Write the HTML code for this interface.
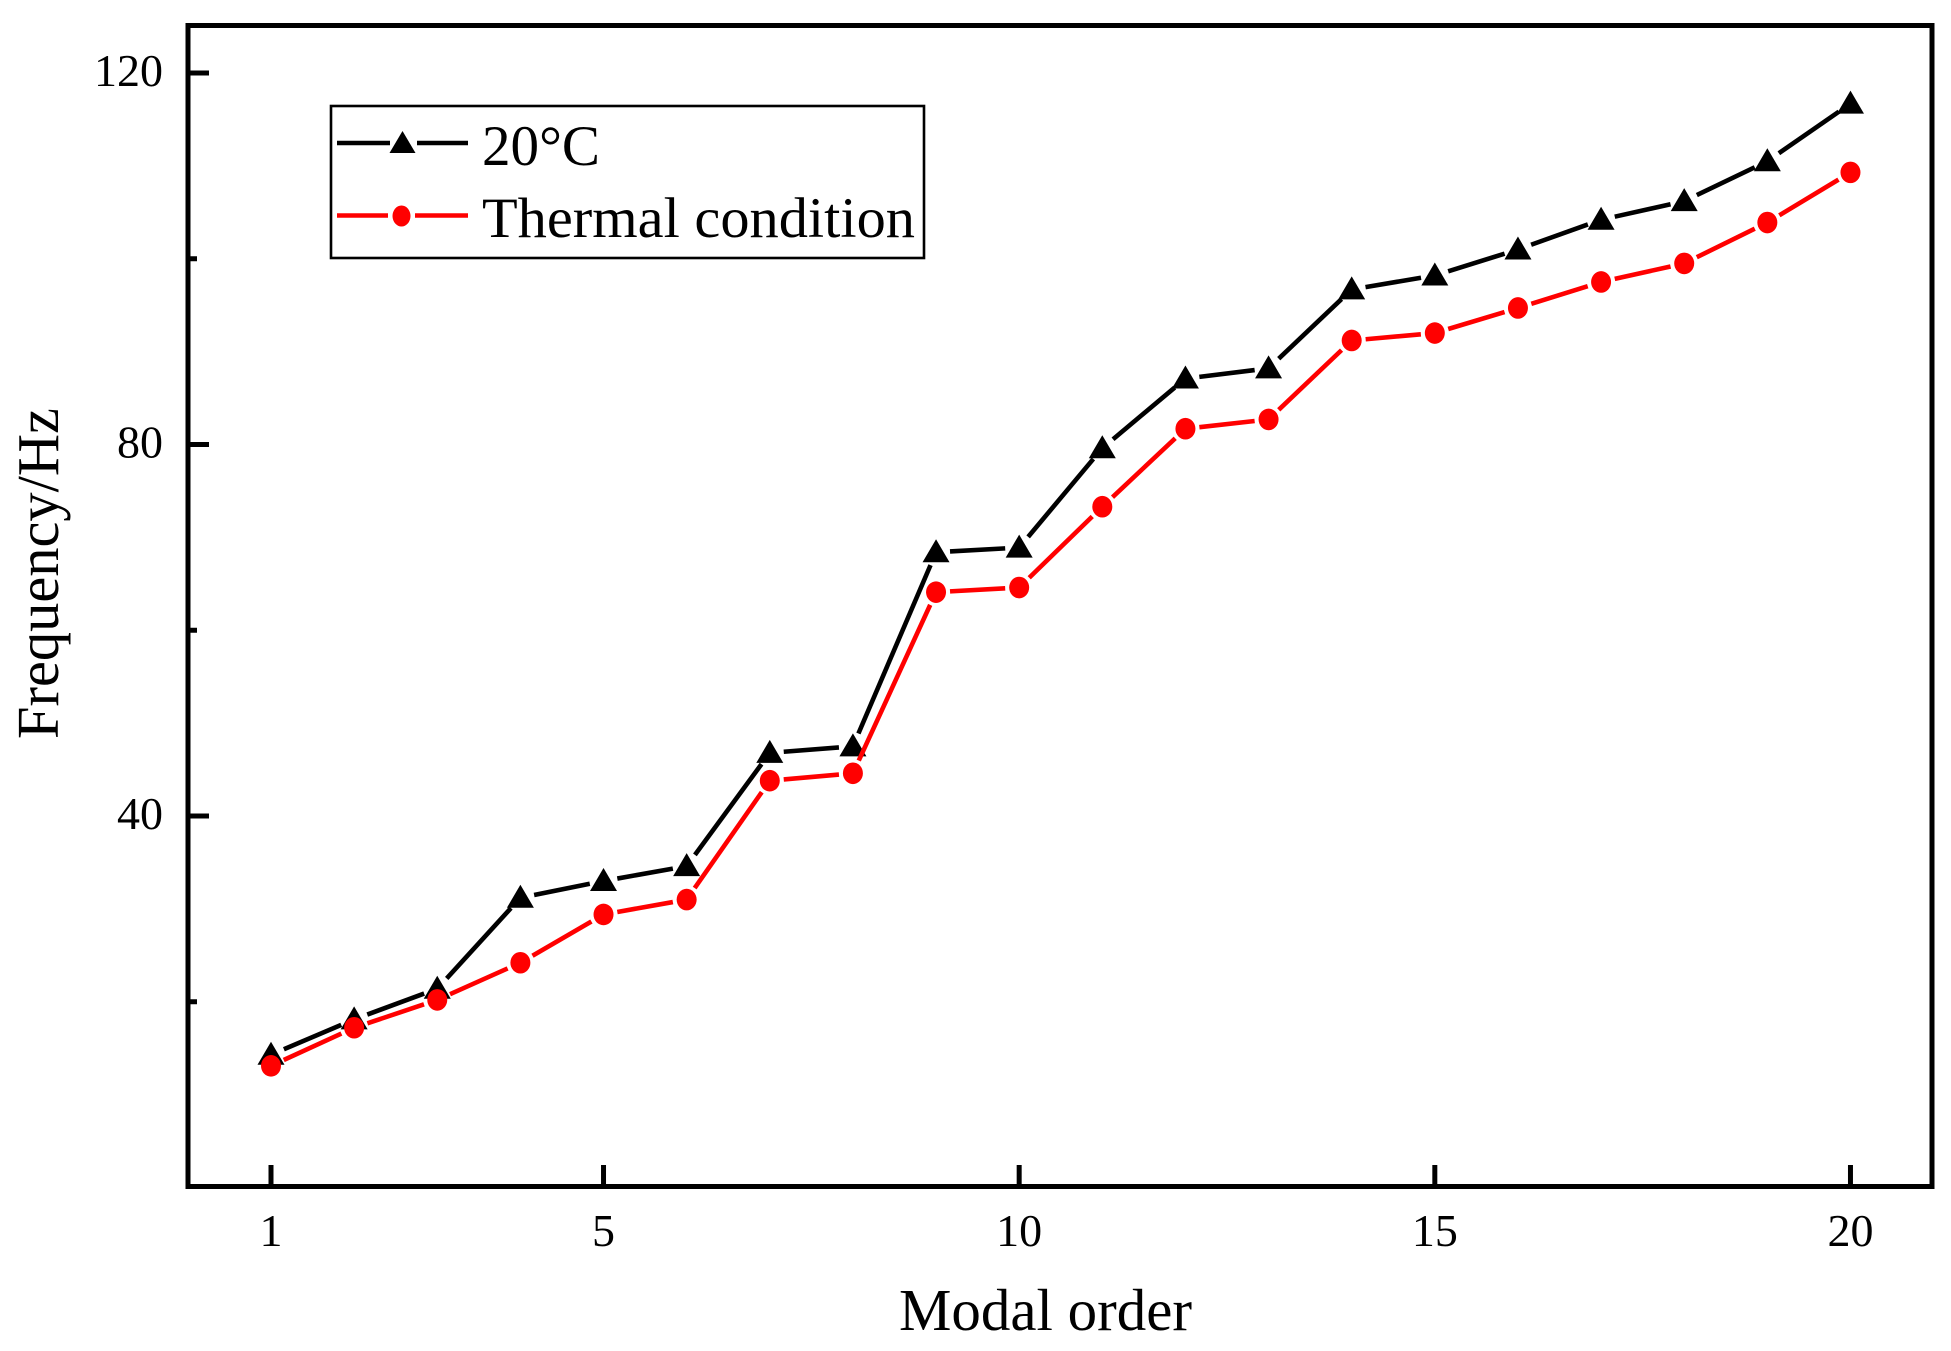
<!DOCTYPE html>
<html lang="en">
<head>
<meta charset="utf-8">
<title>Frequency vs modal order</title>
<style>
  html, body { margin: 0; padding: 0; background: #fff; }
  svg { display: block; }
  text { font-family: "Liberation Serif", "Times New Roman", serif; fill: #000; }
</style>
</head>
<body>
<svg id="chart" xmlns="http://www.w3.org/2000/svg" width="1951" height="1351" viewBox="0 0 1951 1351">
  <rect x="0" y="0" width="1951" height="1351" fill="#fff"/>
  <g id="ticks"></g>
  <g id="series"></g>
  <rect x="188" y="25.5" width="1744" height="1161" fill="none" stroke="#000" stroke-width="5"/>

  <text x="1045.5" y="1330" font-size="59" text-anchor="middle" textLength="293" lengthAdjust="spacingAndGlyphs">Modal order</text>
  <text transform="translate(58 573.5) rotate(-90)" x="0" y="0" font-size="59" text-anchor="middle" textLength="331" lengthAdjust="spacingAndGlyphs">Frequency/Hz</text>

  <g>
    <rect x="331" y="106" width="593" height="152" fill="#fff" stroke="#000" stroke-width="2.6"/>
    <g>
      <line x1="337" y1="143" x2="390" y2="143" stroke="#000" stroke-width="4.6"/>
      <line x1="417" y1="143" x2="468" y2="143" stroke="#000" stroke-width="4.6"/>
      <polygon points="402.5,131 415.5,153 389.5,153" fill="#000"/>
      <text x="482" y="165" font-size="57" textLength="118" lengthAdjust="spacingAndGlyphs">20°C</text>
    </g>
    <g>
      <line x1="337" y1="215.5" x2="388" y2="215.5" stroke="#f00" stroke-width="4.6"/>
      <line x1="415" y1="215.5" x2="468" y2="215.5" stroke="#f00" stroke-width="4.6"/>
      <ellipse cx="401.5" cy="216" rx="9" ry="10.5" fill="#f00"/>
      <text x="482" y="237" font-size="57" textLength="433" lengthAdjust="spacingAndGlyphs">Thermal condition</text>
    </g>
  </g>
</svg>
<script>
const modalOrders = [1,2,3,4,5,6,7,8,9,10,11,12,13,14,15,16,17,18,19,20];
const freq20C = [14.3,18.1,21.4,31.2,33.0,34.6,46.8,47.5,68.4,68.9,79.6,87.1,88.2,96.7,98.2,101.0,104.2,106.2,110.5,116.7];
const freqThermal = [13.1,17.2,20.2,24.2,29.4,31.0,43.8,44.6,64.1,64.6,73.3,81.7,82.7,91.2,92.0,94.7,97.5,99.5,103.9,109.3];
const xTicks = [1,5,10,15,20];
const yMajorTicks = [120,80,40];
const yMinorTicks = [100,60,20];

const NS = 'http://www.w3.org/2000/svg';
function xScale(v) { return 271 + (v - 1) * 83.13; }
function yScale(v) { return 73 + (120 - v) * 9.2875; }
function make(tag, attrs, parent) {
  const el = document.createElementNS(NS, tag);
  for (const k in attrs) el.setAttribute(k, attrs[k]);
  parent.appendChild(el);
  return el;
}

const tickGroup = document.getElementById('ticks');
xTicks.forEach(function (t) {
  const x = xScale(t);
  const tick = make('line', {x1: x, x2: x, y1: 1165, y2: 1186, stroke: '#000', 'stroke-width': 5}, tickGroup);
  
  
  const label = make('text', {x: x, y: 1246, 'font-size': 46, 'text-anchor': 'middle'}, tickGroup);
  label.textContent = t;
  
  
});
yMajorTicks.forEach(function (t) {
  const y = yScale(t);
  const tick = make('line', {x1: 188, x2: 209, y1: y, y2: y, stroke: '#000', 'stroke-width': 5}, tickGroup);
  
  
  const label = make('text', {x: 163, y: y + 13, 'font-size': 46, 'text-anchor': 'end'}, tickGroup);
  label.textContent = t;
  
  
});
yMinorTicks.forEach(function (t) {
  const y = yScale(t);
  const tick = make('line', {x1: 188, x2: 197, y1: y, y2: y, stroke: '#000', 'stroke-width': 5}, tickGroup);
  
  
});

const seriesGroup = document.getElementById('series');
const GAP = 14;
function drawSeries(values, color, key, marker) {
  const g = make('g', {}, seriesGroup);
  
  
  for (let i = 0; i < values.length - 1; i++) {
    const x1 = xScale(modalOrders[i]), y1 = yScale(values[i]);
    const x2 = xScale(modalOrders[i + 1]), y2 = yScale(values[i + 1]);
    const len = Math.hypot(x2 - x1, y2 - y1);
    const ux = (x2 - x1) / len, uy = (y2 - y1) / len;
    const seg = make('line', {
      x1: x1 + ux * GAP, y1: y1 + uy * GAP,
      x2: x2 - ux * GAP, y2: y2 - uy * GAP,
      stroke: color, 'stroke-width': 4.6
    }, g);
    
    
  }
  values.forEach(function (v, i) {
    const m = marker(xScale(modalOrders[i]), yScale(v), g);
    
    
  });
}
function triangleMarker(x, y, parent) {
  return make('polygon', {
    points: x + ',' + (y - 13) + ' ' + (x + 13.5) + ',' + (y + 10) + ' ' + (x - 13.5) + ',' + (y + 10),
    fill: '#000'
  }, parent);
}
function circleMarker(x, y, parent) {
  return make('ellipse', {cx: x, cy: y, rx: 10, ry: 10.8, fill: '#f00'}, parent);
}
drawSeries(freq20C, '#000', '20c', triangleMarker);
drawSeries(freqThermal, '#f00', 'thermal', circleMarker);
</script>
</body>
</html>
